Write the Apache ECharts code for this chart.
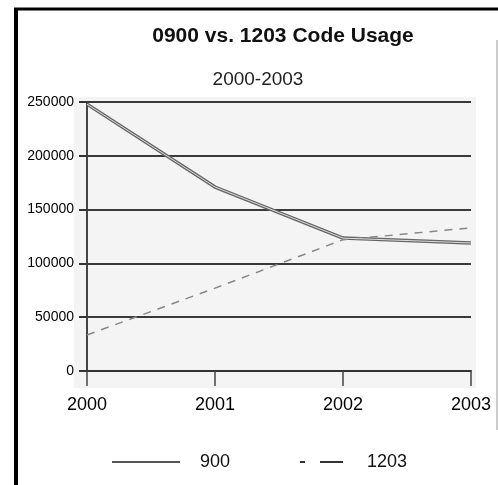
<!DOCTYPE html>
<html>
<head>
<meta charset="utf-8">
<script src="https://cdn.jsdelivr.net/npm/echarts@6/dist/echarts.min.js"></script>
<style>
  html, body { margin: 0; padding: 0; background: #fff; }
  #chart { width: 498px; height: 485px; }
</style>
</head>
<body>
<div id="chart"></div>
<script>
// Yearly usage counts for the two codes
const years = ['2000', '2001', '2002', '2003'];
const usage900 = [248000, 171000, 123500, 119000];
const usage1203 = [33500, 77000, 122000, 133000];
const yTicks = { min: 0, max: 250000, interval: 50000 };

const chart = echarts.init(document.getElementById('chart'));
const font = 'Arial, "Liberation Sans", sans-serif';
const legendText = { fontFamily: font, fontSize: 18, color: '#111', padding: [0, 0, 0, 15] };

chart.setOption({
  backgroundColor: '#fff',
  animation: false,
  title: [
    {
      text: '0900 vs. 1203 Code Usage',
      left: 278, top: 21, textAlign: 'center',
      textStyle: { fontFamily: font, fontSize: 21, fontWeight: 'bold', color: '#111' }
    },
    {
      text: '2000-2003',
      left: 253, top: 65, textAlign: 'center',
      textStyle: { fontFamily: font, fontSize: 19, fontWeight: 'normal', color: '#222' }
    }
  ],
  graphic: [
    // light plot backdrop
    { type: 'rect', shape: { x: 74, y: 97, width: 402, height: 291 }, style: { fill: '#f4f4f4' }, z: -10 },
    // frame edges
    { type: 'line', shape: { x1: 14, y1: 9, x2: 498, y2: 9 }, style: { stroke: '#000', lineWidth: 3 }, z: 10 },
    { type: 'line', shape: { x1: 16, y1: 8, x2: 16, y2: 485 }, style: { stroke: '#000', lineWidth: 4 }, z: 10 },
    { type: 'line', shape: { x1: 497, y1: 40, x2: 497, y2: 430 }, style: { stroke: '#999', lineWidth: 1 }, z: 10 }
  ],
  legend: [
    {
      data: [{ name: '900', icon: 'rect', itemStyle: { color: '#555' } }],
      left: 107, top: 448,
      itemWidth: 68, itemHeight: 2,
      textStyle: legendText
    },
    {
      data: [{ name: '1203', icon: 'path://M0,0h5v2h-5z M20,0h23v2h-23z', itemStyle: { color: '#333' } }],
      left: 295, top: 448,
      itemWidth: 43, itemHeight: 2,
      textStyle: Object.assign({}, legendText, { padding: [0, 0, 0, 19] })
    }
  ],
  grid: { left: 87, right: 27, top: 102, bottom: 114, containLabel: false },
  xAxis: {
    type: 'category',
    data: years,
    boundaryGap: false,
    axisLine: { show: true, lineStyle: { color: '#333', width: 2 } },
    axisTick: { show: true, length: 15, lineStyle: { color: '#444', width: 1.5 } },
    axisLabel: { margin: 25, fontFamily: font, fontSize: 18, color: '#000' },
    splitLine: { show: false }
  },
  yAxis: {
    type: 'value',
    min: yTicks.min, max: yTicks.max, interval: yTicks.interval,
    axisLine: { show: true, lineStyle: { color: '#444', width: 2 } },
    axisTick: { show: true, length: 8, lineStyle: { color: '#333', width: 2 } },
    axisLabel: { margin: 13, fontFamily: font, fontSize: 14, color: '#000', formatter: v => String(v) },
    splitLine: { show: true, lineStyle: { color: '#3a3a3a', width: 2 } }
  },
  series: [
    {
      name: '900', type: 'line', data: usage900,
      symbol: 'none', z: 3,
      lineStyle: { color: '#666', width: 3.5 },
      itemStyle: { color: '#666' }
    },
    {
      name: '900-core', type: 'line', data: usage900,
      symbol: 'none', z: 4, silent: true,
      lineStyle: { color: '#ddd', width: 1 }
    },
    {
      name: '1203', type: 'line', data: usage1203,
      symbol: 'none', z: 3,
      lineStyle: { color: '#888', width: 1.5, type: [8, 7] },
      itemStyle: { color: '#888' }
    }
  ]
});
</script>
</body>
</html>
